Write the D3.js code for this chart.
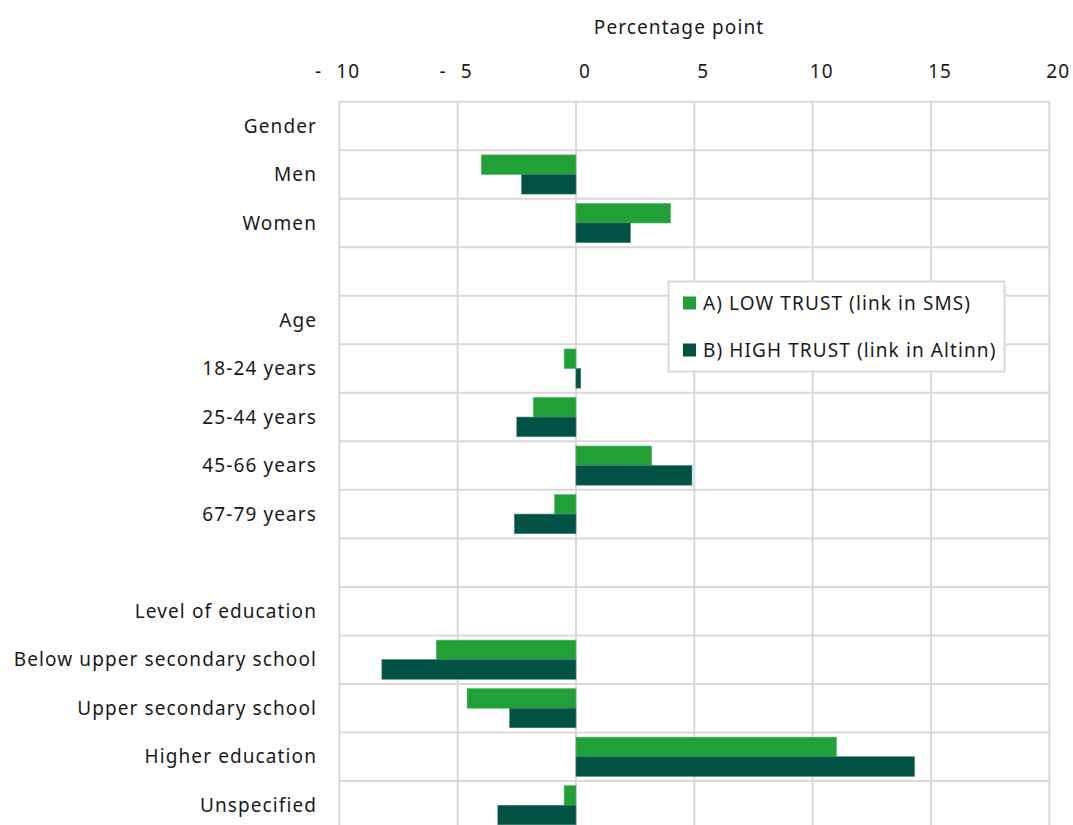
<!DOCTYPE html>
<html><head><meta charset="utf-8">
<script src="https://cdn.jsdelivr.net/npm/d3@7"></script>
<style>
html,body{margin:0;padding:0;background:#fff;overflow:hidden;}
svg{display:block;font-family:"Noto Sans","Open Sans",sans-serif;}
svg text{letter-spacing:1.1px;}
</style></head>
<body>
<svg id="chart" width="1073" height="825"></svg>
<script>
const categories = ["Gender","Men","Women","","Age","18-24 years","25-44 years","45-66 years","67-79 years","","Level of education","Below upper secondary school","Upper secondary school","Higher education","Unspecified"];
const lowTrust  = [null,-4.0, 4.0,null,null,-0.5,-1.8,3.2,-0.9,null,null,-5.9,-4.6,11.0,-0.5];
const highTrust = [null,-2.3, 2.3,null,null, 0.2,-2.5,4.9,-2.6,null,null,-8.2,-2.8,14.3,-3.3];
const seriesNames = ["A) LOW TRUST (link in SMS)","B) HIGH TRUST (link in Altinn)"];
const seriesColors = ["#21a038","#005344"];
const tickValues = [-10,-5,0,5,10,15,20];
const tickLabels = ["- 10","- 5","0","5","10","15","20"];
const axisTitle = "Percentage point";

const FS = 19;
const txtColor = "#1a1a1a";
const svg = d3.select("#chart");
const m = {left:339.3, right:1049.3, top:101.7, bottom:829.5};
const x = d3.scaleLinear().domain([-10,20]).range([m.left,m.right]);
const idx = categories.map((d,i)=>i);
const y = d3.scaleBand().domain(idx).range([m.top,m.bottom]).padding(0);
const ySub = d3.scaleBand().domain([0,1]).range([0,y.bandwidth()]).paddingInner(0).paddingOuter(0.24);
const gridColor = "#d9d9d9";

// grid
const g = svg.append("g");
g.selectAll("line.v").data(tickValues).join("line")
  .attr("x1",d=>x(d)).attr("x2",d=>x(d)).attr("y1",m.top).attr("y2",m.bottom)
  .attr("stroke",gridColor).attr("stroke-width",2);
g.selectAll("line.h").data(idx.concat([categories.length])).join("line")
  .attr("x1",m.left).attr("x2",m.right)
  .attr("y1",d=>d<categories.length?y(d):m.bottom).attr("y2",d=>d<categories.length?y(d):m.bottom)
  .attr("stroke",gridColor).attr("stroke-width",2);

// axis labels (accounting-style: sign slot left of number)
const axis = d3.axisTop(x).tickValues(tickValues).tickFormat((d,i)=>tickLabels[i].replace("- ","")).tickSize(0).tickPadding(0);
const ax = svg.append("g").attr("transform","translate(0,78)").call(axis);
ax.select(".domain").remove();
ax.selectAll(".tick text").attr("font-size",FS).attr("fill",txtColor)
  .attr("font-family","Noto Sans").attr("dy",0).attr("dx",8.5);
ax.selectAll(".tick").each(function(d,i){
  if (tickLabels[i].startsWith("- ")) {
    const t = d3.select(this).select("text");
    const w = t.node().getComputedTextLength();
    d3.select(this).append("text").attr("font-size",FS).attr("fill",txtColor)
      .attr("font-family","Noto Sans").attr("text-anchor","end")
      .attr("x", 8.5 - w/2 - 14).attr("y",0).text("-");
  }
});

svg.append("text").attr("x",679).attr("y",34).attr("text-anchor","middle")
  .attr("font-size",FS).attr("fill",txtColor).text(axisTitle);

// category labels
svg.append("g").selectAll("text").data(idx).join("text")
  .attr("x",317).attr("y",d=>y(d)+y.bandwidth()/2).attr("dy","0.35em")
  .attr("text-anchor","end").attr("font-size",FS).attr("fill",txtColor)
  .text(d=>categories[d]);

// bars
const series = [lowTrust, highTrust];
series.forEach((vals,s)=>{
  svg.append("g").selectAll("rect").data(idx.filter(i=>vals[i]!=null)).join("rect")
    .attr("x",i=>x(Math.min(0,vals[i])))
    .attr("width",i=>Math.abs(x(vals[i])-x(0)))
    .attr("y",i=>y(i)+ySub(s))
    .attr("height",ySub.bandwidth())
    .attr("fill",seriesColors[s])
    .attr("stroke", s===0?"#4fb86a":"#3a7a6e").attr("stroke-width",0.6);
});

// legend
const lg = svg.append("g");
lg.append("rect").attr("x",668.5).attr("y",281.5).attr("width",336).attr("height",90)
  .attr("fill","#fff").attr("stroke",gridColor).attr("stroke-width",2);
seriesNames.forEach((n,i)=>{
  const cy = 303 + i*47;
  lg.append("rect").attr("x",683).attr("y",cy-6.5).attr("width",13).attr("height",13).attr("fill",seriesColors[i]);
  lg.append("text").attr("x",703).attr("y",cy).attr("dy","0.35em").attr("font-size",FS).attr("fill",txtColor).text(n);
});
</script>
</body></html>
